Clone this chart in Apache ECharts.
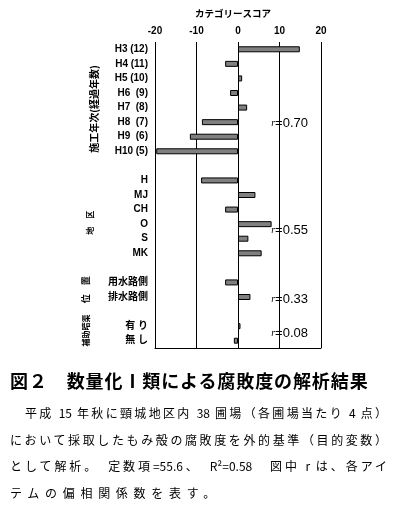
<!DOCTYPE html>
<html lang="ja">
<head>
<meta charset="utf-8">
<script src="https://cdn.jsdelivr.net/npm/echarts@6/dist/echarts.min.js"></script>
<style>
html,body{margin:0;padding:0;background:#fff;}
#chart{position:absolute;left:0;top:0;width:393px;height:509px;}
.cap{position:absolute;font-family:"Noto Sans CJK JP";color:#000;line-height:1;}
#head{left:10px;top:371px;font-size:18px;font-weight:bold;letter-spacing:0.9px;white-space:nowrap;}
.body{font-size:12px;text-align:justify;text-align-last:justify;}
#l1{left:25px;top:407px;width:362px;}
#l2{left:10px;top:434px;width:377px;}
#l3{left:10px;top:460px;width:377px;}
#l4{left:10px;top:487px;letter-spacing:5.7px;white-space:nowrap;}
</style>
</head>
<body>
<div id="chart"></div>
<div class="cap" id="head">図２　数量化Ⅰ類による腐敗度の解析結果</div>
<div class="cap body" id="l1">平成 15 年秋に頸城地区内 38 圃場（各圃場当たり 4 点）</div>
<div class="cap body" id="l2">において採取したもみ殻の腐敗度を外的基準（目的変数）</div>
<div class="cap body" id="l3">として解析。　定数項=55.6、　R²=0.58　図中 r は、各アイ</div>
<div class="cap" id="l4" style="font-size:12px;">テムの偏相関係数を表す。</div>
<script>
// ---- data ----
var categories = ['H3 (12)', 'H4 (11)', 'H5 (10)', 'H6  (9)', 'H7  (8)', 'H8  (7)', 'H9  (6)', 'H10 (5)',
  ' ', 'H', 'MJ', 'CH', 'O', 'S', 'MK', '  ', '用水路側', '排水路側', '   ', '有 り', '無 し'];
var scores = [14.9, -3.1, 1.0, -1.9, 2.2, -8.7, -11.6, -19.7,
  null, -8.9, 4.2, -3.1, 8.1, 2.5, 5.7, null, -3.1, 3.0, null, 0.6, -1.0];
var xTicks = [-20, -10, 0, 10, 20];
var groupNames = ['施工年次(経過年数)', '地　区', '位　置', '補助暗渠'];
var groupRowsAt = [4.1, 11.9, 16.5, 19.3];
var rLabels = ['0.70', '0.55', '0.33', '0.08'];
var rRows = [5.1, 12.4, 17.15, 19.5];
var rX = 8;

var chart = echarts.init(document.getElementById('chart'), null, {renderer: 'canvas'});
var labelFont = {fontFamily: '"Liberation Sans","Noto Sans CJK JP"', fontWeight: 'bold', fontSize: 10, color: '#000'};

chart.setOption({
  animation: false,
  backgroundColor: '#fff',
  grid: {left: 155, width: 166, top: 42, height: 306, containLabel: false},
  xAxis: [{
    type: 'value', position: 'top', min: xTicks[0], max: xTicks[xTicks.length - 1], interval: 10,
    axisLine: {show: false}, axisTick: {show: false},
    splitLine: {show: true, lineStyle: {color: '#000', width: 1}},
    axisLabel: Object.assign({margin: 6}, labelFont),
    name: 'カテゴリースコア', nameLocation: 'middle', nameGap: 24,
    nameTextStyle: Object.assign({}, labelFont, {fontFamily: '"Noto Sans CJK JP"', fontSize: 9.5, padding: [0, 10, 0, 0]})
  }, {
    type: 'value', position: 'bottom', min: xTicks[0], max: xTicks[xTicks.length - 1], interval: 10,
    axisLine: {show: true, lineStyle: {color: '#000', width: 1}},
    axisTick: {show: false}, axisLabel: {show: false}, splitLine: {show: false}
  }],
  yAxis: {
    type: 'category', inverse: true, data: categories,
    axisLine: {show: false}, axisTick: {show: false}, splitLine: {show: false},
    axisLabel: Object.assign({interval: 0, margin: 7}, labelFont, {fontSize: 10})
  },
  series: [{
    type: 'bar', xAxisIndex: 0, data: scores, barWidth: 6,
    itemStyle: {color: '#808080', borderColor: '#000', borderWidth: 1}
  }]
});

function rowY(f) {
  var i = Math.floor(f), fr = f - i;
  var a = chart.convertToPixel({yAxisIndex: 0}, i);
  var b = chart.convertToPixel({yAxisIndex: 0}, i + 1);
  return a + fr * (b - a);
}
var groupX = [94, 90, 86, 86];
var groupSize = [10, 8, 9, 8];
var els = [];
groupNames.forEach(function (g, k) {
  els.push({
    type: 'text', x: groupX[k], y: rowY(groupRowsAt[k]), rotation: Math.PI / 2,
    style: {text: g, fontFamily: '"Noto Sans CJK JP"', fontWeight: 'bold', fontSize: groupSize[k],
      fill: '#000', align: 'center', verticalAlign: 'middle'}
  });
});
var px = chart.convertToPixel({xAxisIndex: 0}, rX);
rLabels.forEach(function (t, k) {
  var y = rowY(rRows[k]);
  els.push({
    type: 'text', x: px, y: y,
    style: {text: '{r|r}{v|=' + t + '}', align: 'left', verticalAlign: 'middle',
      rich: {
        r: {fontFamily: '"Liberation Serif"', fontStyle: 'italic', fontSize: 10, fill: '#000'},
        v: {fontFamily: '"Liberation Sans"', fontSize: 13, fill: '#000'}
      }}
  });
});
chart.setOption({graphic: els});
</script>
</body>
</html>
